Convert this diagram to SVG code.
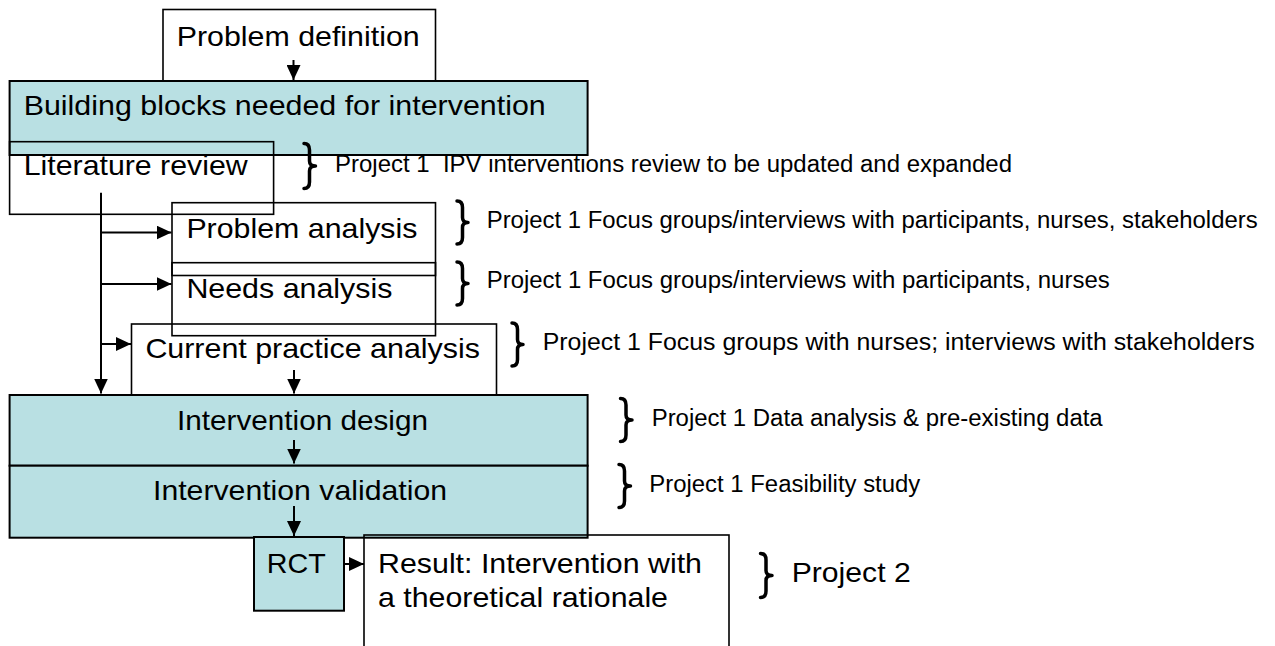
<svg xmlns="http://www.w3.org/2000/svg" width="1275" height="646" viewBox="0 0 1275 646">
<style>
.box{fill:none;stroke:#000;stroke-width:1.6}
.wbox{fill:#fff;stroke:#000;stroke-width:1.6}
.blue{fill:#b9e0e3;stroke:#000;stroke-width:2}
.big{font-family:"Liberation Sans",Arial,sans-serif;font-size:28px;fill:#000}
.small{font-family:"Liberation Sans",Arial,sans-serif;font-size:23px;fill:#000}
.conn{fill:none;stroke:#000;stroke-width:2}
.brace{fill:none;stroke:#000;stroke-width:3.5;stroke-linejoin:round;stroke-linecap:round}
</style>
<defs>
<marker id="ah" markerUnits="userSpaceOnUse" markerWidth="15" markerHeight="14" refX="15" refY="7" orient="auto">
<path d="M0,0 L15,7 L0,14 z" fill="#000"/>
</marker>
</defs>
<rect width="1275" height="646" fill="#fff"/>

<g id="problem-definition">
<rect class="wbox" x="163" y="9.5" width="272.5" height="80"/>
<text class="big" x="176.7" y="45.7" textLength="243" lengthAdjust="spacingAndGlyphs">Problem definition</text>
</g>

<g id="building-blocks">
<rect class="blue" x="9.6" y="81" width="578" height="74"/>
<text class="big" x="23.7" y="115" textLength="522" lengthAdjust="spacingAndGlyphs">Building blocks needed for intervention</text>
</g>

<g id="literature-review">
<rect class="box" x="9.6" y="141.7" width="264" height="72.6"/>
<text class="big" x="23.7" y="175" textLength="224" lengthAdjust="spacingAndGlyphs">Literature review</text>
</g>

<g id="problem-analysis">
<rect class="box" x="172" y="202.7" width="263.5" height="72.8"/>
<text class="big" x="186.4" y="238" textLength="231" lengthAdjust="spacingAndGlyphs">Problem analysis</text>
</g>

<g id="needs-analysis">
<rect class="box" x="172" y="262.7" width="263.5" height="73"/>
<text class="big" x="186.4" y="298.3" textLength="206" lengthAdjust="spacingAndGlyphs">Needs analysis</text>
</g>

<g id="current-practice">
<rect class="box" x="131.5" y="324" width="365" height="80"/>
<text class="big" x="145.4" y="358.3" textLength="334.5" lengthAdjust="spacingAndGlyphs">Current practice analysis</text>
</g>

<g id="intervention-design">
<rect class="blue" x="9.6" y="395" width="578" height="70.7"/>
<text class="big" x="177" y="430" textLength="251" lengthAdjust="spacingAndGlyphs">Intervention design</text>
</g>

<g id="intervention-validation">
<rect class="blue" x="9.6" y="465.7" width="578" height="72"/>
<text class="big" x="153" y="500" textLength="294" lengthAdjust="spacingAndGlyphs">Intervention validation</text>
</g>

<g id="rct">
<rect class="blue" x="254" y="537" width="90" height="73.7"/>
<text class="big" x="266.7" y="573.3" textLength="59" lengthAdjust="spacingAndGlyphs">RCT</text>
</g>

<g id="result">
<rect class="box" x="364" y="535" width="365" height="130"/>
<text class="big" x="378" y="573.3" textLength="324" lengthAdjust="spacingAndGlyphs">Result: Intervention with</text>
<text class="big" x="378" y="607.3" textLength="290" lengthAdjust="spacingAndGlyphs">a theoretical rationale</text>
</g>

<g id="connectors">
<path class="conn" d="M293.5,60 L293.5,80" marker-end="url(#ah)"/>
<path class="conn" d="M294,370 L294,393.5" marker-end="url(#ah)"/>
<path class="conn" d="M294,440 L294,463.5" marker-end="url(#ah)"/>
<path class="conn" d="M294,506 L294,536" marker-end="url(#ah)"/>
<path class="conn" d="M344,564 L364,564" marker-end="url(#ah)"/>
<path class="conn" d="M101,192.7 L101,393.5" marker-end="url(#ah)"/>
<path class="conn" d="M101,232.5 L171.5,232.5" marker-end="url(#ah)"/>
<path class="conn" d="M101,284 L171.5,284" marker-end="url(#ah)"/>
<path class="conn" d="M101,344 L131,344" marker-end="url(#ah)"/>
</g>

<g id="annotations">
<path class="brace" d="M304,143.5 Q309.5,143.5 309.5,150 L309.5,161 Q309.5,166 315.5,166 Q309.5,166 309.5,171 L309.5,182 Q309.5,188.5 304,188.5"/>
<text class="small" x="335" y="171.7" textLength="677" lengthAdjust="spacingAndGlyphs" xml:space="preserve">Project 1  IPV interventions review to be updated and expanded</text>

<path class="brace" d="M457,201 Q462.5,201 462.5,207.5 L462.5,217.5 Q462.5,222.5 468,222.5 Q462.5,222.5 462.5,227.5 L462.5,237.5 Q462.5,244 457,244"/>
<text class="small" x="486.7" y="228.3" textLength="771" lengthAdjust="spacingAndGlyphs">Project 1 Focus groups/interviews with participants, nurses, stakeholders</text>

<path class="brace" d="M457,262 Q462.5,262 462.5,268.5 L462.5,278.5 Q462.5,283.5 468,283.5 Q462.5,283.5 462.5,288.5 L462.5,298.5 Q462.5,305 457,305"/>
<text class="small" x="486.7" y="288.3" textLength="623" lengthAdjust="spacingAndGlyphs">Project 1 Focus groups/interviews with participants, nurses</text>

<path class="brace" d="M512,323 Q517.5,323 517.5,329.5 L517.5,339.5 Q517.5,344.5 523,344.5 Q517.5,344.5 517.5,349.5 L517.5,359.5 Q517.5,366 512,366"/>
<text class="small" x="542.7" y="350" textLength="712" lengthAdjust="spacingAndGlyphs">Project 1 Focus groups with nurses; interviews with stakeholders</text>

<path class="brace" d="M620.5,398.5 Q626,398.5 626,405 L626,415 Q626,420 632,420 Q626,420 626,425 L626,435 Q626,441.5 620.5,441.5"/>
<text class="small" x="651.7" y="426" textLength="451" lengthAdjust="spacingAndGlyphs">Project 1 Data analysis &amp; pre-existing data</text>

<path class="brace" d="M619,464.5 Q624.5,464.5 624.5,471 L624.5,481 Q624.5,486 630.5,486 Q624.5,486 624.5,491 L624.5,501 Q624.5,507.5 619,507.5"/>
<text class="small" x="649.3" y="491.7" textLength="271" lengthAdjust="spacingAndGlyphs">Project 1 Feasibility study</text>

<path class="brace" d="M760.5,553.5 Q766,553.5 766,560 L766,570.5 Q766,575.5 772,575.5 Q766,575.5 766,580.5 L766,591 Q766,597.5 760.5,597.5"/>
<text class="big" x="791.7" y="581.7" textLength="119" lengthAdjust="spacingAndGlyphs">Project 2</text>
</g>
</svg>
